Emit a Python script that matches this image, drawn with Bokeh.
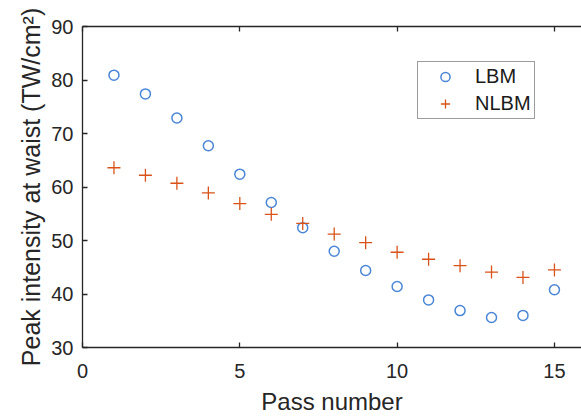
from bokeh.plotting import figure
from bokeh.models import Range1d, LinearAxis, FixedTicker, Legend, LegendItem
from bokeh.embed import file_html
from bokeh.resources import INLINE

passes = list(range(1, 16))
lbm = [80.9, 77.4, 72.9, 67.7, 62.4, 57.1, 52.4, 48.0, 44.4, 41.4, 38.9, 36.9, 35.6, 36.0, 40.8]
nlbm = [63.6, 62.2, 60.7, 58.9, 56.9, 54.9, 53.2, 51.2, 49.6, 47.8, 46.5, 45.3, 44.1, 43.1, 44.5]
x_ticks = [0, 5, 10, 15]
y_ticks = [30, 40, 50, 60, 70, 80, 90]

FONT = "Liberation Sans"
AX = "#262626"

p = figure(width=581, height=417, output_backend="svg", toolbar_location=None,
           x_range=Range1d(0, 15.86), y_range=Range1d(30, 90),
           min_border_left=82, min_border_right=0, min_border_top=26, min_border_bottom=69)
p.xaxis.visible = False
p.yaxis.visible = False
p.grid.visible = False
p.outline_line_color = None
p.background_fill_color = "white"

def style(ax):
    ax.axis_line_color = AX
    ax.axis_line_width = 1.3
    ax.major_tick_in = 5
    ax.major_tick_out = 0
    ax.minor_tick_line_color = None
    ax.major_tick_line_color = AX
    ax.major_tick_line_width = 1.3
    ax.major_label_text_font = FONT
    ax.major_label_text_font_size = "20px"
    ax.major_label_text_color = AX
    ax.axis_label_text_font = FONT
    ax.axis_label_text_font_size = "24px"
    ax.axis_label_text_font_style = "normal"
    ax.axis_label_text_color = AX

xb = LinearAxis(ticker=FixedTicker(ticks=x_ticks), axis_label="Pass number")
style(xb)
xb.major_label_standoff = 16
xb.axis_label_standoff = 7
p.add_layout(xb, "below")

yl = LinearAxis(ticker=FixedTicker(ticks=y_ticks), axis_label="Peak intensity at waist (TW/cm²)")
style(yl)
yl.axis_label_text_font_size = "25px"
yl.major_label_standoff = 9
yl.axis_label_standoff = 3
p.add_layout(yl, "left")

xt = LinearAxis(ticker=FixedTicker(ticks=x_ticks),
                major_label_overrides={t: "" for t in x_ticks})
style(xt)
xt.major_label_standoff = 0
p.add_layout(xt, "above")

r1 = p.scatter(passes, lbm, marker="circle", size=10, fill_color=None,
               line_color="#4A86D6", line_width=1.5)
r2 = p.scatter(passes, nlbm, marker="cross", size=13, fill_color=None,
               line_color="#D95319", line_width=1.3)

leg = Legend(items=[LegendItem(label="LBM", renderers=[r1]),
                    LegendItem(label="NLBM", renderers=[r2])],
             location=(335, 228), border_line_color="#3a3a3a", border_line_width=1.3,
             label_text_font=FONT, label_text_font_size="20px", label_text_color="#1a1a1a",
             padding=3, spacing=4, glyph_width=48, glyph_height=23, label_height=23,
             label_standoff=6, margin=0,
             background_fill_color="white", background_fill_alpha=1.0)
p.add_layout(leg, "center")

open("out.html", "w").write(file_html(p, INLINE))
